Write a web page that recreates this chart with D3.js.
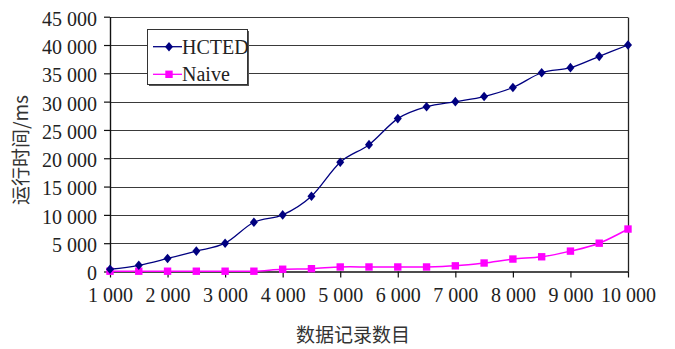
<!DOCTYPE html>
<html><head><meta charset="utf-8">
<script src="https://cdn.jsdelivr.net/npm/d3@7/dist/d3.min.js"></script>
<style>html,body{margin:0;padding:0;background:#fff}svg{display:block}</style>
</head><body>
<svg id="chart" width="675" height="349"></svg>
<script>
// ---- data ----
const recordCounts = [1000,1500,2000,2500,3000,3500,4000,4500,5000,5500,6000,6500,7000,7500,8000,8500,9000,9500,10000];
const hctedTimes   = [400,1100,2300,3600,5000,8700,10000,13300,19300,22400,27000,29100,30000,30900,32500,35100,36000,38000,40000];
const naiveTimes   = [50,50,50,50,50,50,400,500,800,800,800,800,1000,1500,2200,2600,3600,5000,7500];
const seriesNames  = ["HCTED","Naive"];
const xTickValues  = [1000,2000,3000,4000,5000,6000,7000,8000,9000,10000];
const yTickValues  = [0,5000,10000,15000,20000,25000,30000,35000,40000,45000];
const xTitle = "数据记录数目";
const yTitle = "运行时间/ms";

// ---- setup ----
const svg = d3.select("#chart");
const pL = 110, pR = 628, pT = 16.7, pB = 271.5;
const x = d3.scaleLinear().domain([1000,10000]).range([pL,pR]);
const y = d3.scaleLinear().domain([0,45000]).range([pB,pT]);
const fmt = d3.formatLocale({decimal:".",thousands:" ",grouping:[3],currency:["",""]}).format(",d");
const serif = "'Liberation Serif','Times New Roman',serif";
const cjk = "'Noto Sans CJK SC','Noto Sans CJK JP',sans-serif";

// gridlines
svg.append("g").selectAll("line").data(yTickValues.filter(v=>v>0)).join("line")
  .attr("x1",pL).attr("x2",pR)
  .attr("y1",d=>Math.round(y(d))+0.5).attr("y2",d=>Math.round(y(d))+0.5)
  .attr("stroke","#3a3a3a").attr("stroke-width",1.1);

// right border
svg.append("line").attr("x1",pR+0.5).attr("x2",pR+0.5)
  .attr("y1",Math.round(y(45000))+0.5).attr("y2",pB)
  .attr("stroke","#222").attr("stroke-width",1.3);

// axes
const xAxis = svg.append("g").attr("transform",`translate(0,${pB})`)
  .call(d3.axisBottom(x).tickValues(xTickValues).tickSize(6).tickSizeOuter(0).tickPadding(10).tickFormat(fmt));
const yAxis = svg.append("g").attr("transform",`translate(${pL},0)`)
  .call(d3.axisLeft(y).tickValues(yTickValues).tickSize(6).tickSizeOuter(0).tickPadding(7).tickFormat(fmt));
[xAxis,yAxis].forEach(g=>{
  g.select(".domain").attr("stroke","#111").attr("stroke-width",1.4);
  g.selectAll(".tick line").attr("stroke","#111").attr("stroke-width",1.2);
  g.selectAll(".tick text").attr("fill","#222").style("font-family",serif).style("font-size","20px");
});
yAxis.selectAll(".tick text").attr("dy","0.42em");
xAxis.selectAll(".tick text").attr("dy","0.72em");

// series
const diamond = "M0,-4.8L4,0L0,4.8L-4,0Z";
const square = "M-3.7,-3.7H3.7V3.7H-3.7Z";
const line = d3.line().x(d=>x(d[0])).y(d=>y(d[1])).curve(d3.curveCardinal.tension(0));

const naivePts = recordCounts.map((r,i)=>[r,naiveTimes[i]]);
const hctedPts = recordCounts.map((r,i)=>[r,hctedTimes[i]]);

svg.append("path").datum(naivePts).attr("d",line)
  .attr("fill","none").attr("stroke","#ff00ff").attr("stroke-width",1.5);
svg.append("g").selectAll("path").data(naivePts).join("path")
  .attr("transform",d=>`translate(${x(d[0])},${y(d[1])})`)
  .attr("d",square).attr("fill","#ff00ff");

svg.append("path").datum(hctedPts).attr("d",line)
  .attr("fill","none").attr("stroke","#000080").attr("stroke-width",1.3);
svg.append("g").selectAll("path").data(hctedPts).join("path")
  .attr("transform",d=>`translate(${x(d[0])},${y(d[1])})`)
  .attr("d",diamond).attr("fill","#000080");

// legend
const lg = svg.append("g");
lg.append("rect").attr("x",149).attr("y",31).attr("width",100).attr("height",55).attr("fill","#555");
lg.append("rect").attr("x",147.5).attr("y",29.5).attr("width",100).attr("height",55)
  .attr("fill","#fff").attr("stroke","#333").attr("stroke-width",1);
const legendItems = [
  {name:seriesNames[0],color:"#000080",shape:diamond,yy:46.7},
  {name:seriesNames[1],color:"#ff00ff",shape:square,yy:74.3}
];
legendItems.forEach(it=>{
  lg.append("line").attr("x1",153).attr("x2",182).attr("y1",it.yy).attr("y2",it.yy)
    .attr("stroke",it.color).attr("stroke-width",1.3);
  lg.append("path").attr("d",it.shape).attr("transform",`translate(169,${it.yy})`).attr("fill",it.color);
  lg.append("text").attr("x",182).attr("y",it.yy+6.8).text(it.name)
    .attr("fill","#222").style("font-family",serif).style("font-size","20px");
});

// titles
svg.append("text").attr("x",353).attr("y",342).attr("text-anchor","middle")
  .text(xTitle).attr("fill","#333").style("font-family",cjk).style("font-size","19px");
svg.append("text").attr("transform","translate(28,150) rotate(-90)").attr("text-anchor","middle")
  .text(yTitle).attr("fill","#333").style("font-family",cjk).style("font-size","19px");
</script>
</body></html>
